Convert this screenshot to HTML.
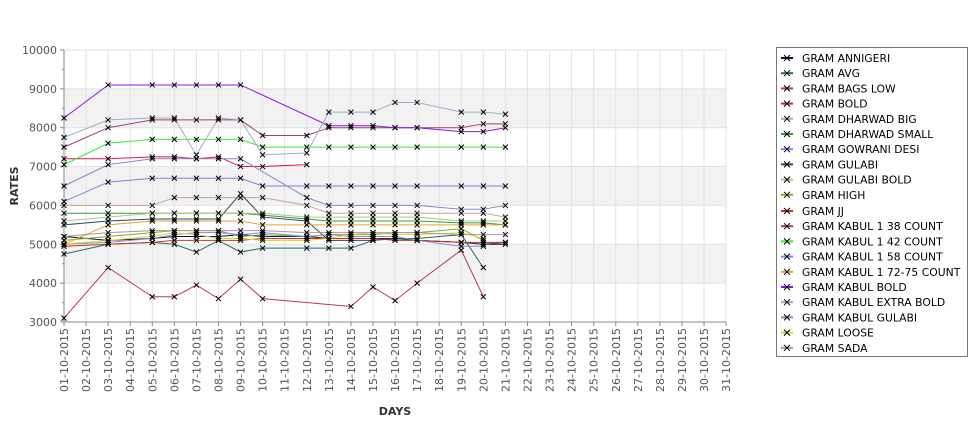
<!DOCTYPE html>
<html><head><meta charset="utf-8"><style>
body{margin:0;background:#fff;font-family:"DejaVu Sans","Liberation Sans",sans-serif;}
svg text{font-family:"DejaVu Sans","Liberation Sans",sans-serif;}
</style></head><body>
<svg id="c" width="975" height="429" xmlns="http://www.w3.org/2000/svg"></svg>
<script>
const s=document.getElementById('c');let h='';
const X=d=>64+(d-1)*22.07, Y=v=>322-(v-3000)*0.03886;
[[9000,8000],[7000,6000],[5000,4000]].forEach(b=>{h+=`<rect x="64" y="${Y(b[0])}" width="662" height="${Y(b[1])-Y(b[0])}" fill="#f2f2f2"/>`;});
for(let d=1;d<=31;d++){h+=`<line x1="${X(d)}" y1="50" x2="${X(d)}" y2="322" stroke="#e2e2e2"/>`;}
for(let v=3000;v<=10000;v+=1000){h+=`<line x1="64" y1="${Y(v)}" x2="726" y2="${Y(v)}" stroke="#e2e2e2"/>`;
h+=`<text x="57" y="${Y(v)+4}" font-size="11" fill="#555" text-anchor="end">${v}</text>`;
h+=`<line x1="60" y1="${Y(v)}" x2="64" y2="${Y(v)}" stroke="#888"/>`;
if(v<10000)h+=`<line x1="62" y1="${Y(v+500)}" x2="64" y2="${Y(v+500)}" stroke="#888"/>`;}
h+=`<line x1="64" y1="50" x2="64" y2="322" stroke="#888"/><line x1="64" y1="322" x2="726" y2="322" stroke="#888"/>`;
for(let d=1;d<=31;d++){const l=String(d).padStart(2,'0')+'-10-2015';
h+=`<line x1="${X(d)}" y1="322" x2="${X(d)}" y2="326" stroke="#888"/>`;
h+=`<text transform="translate(${X(d)+4},328) rotate(-90)" font-size="11" fill="#555" text-anchor="end">${l}</text>`;}
h+=`<text x="395" y="415" font-size="11" font-weight="bold" fill="#333" text-anchor="middle">DAYS</text>`;
h+=`<text transform="translate(18,186) rotate(-90)" font-size="11" font-weight="bold" fill="#333" text-anchor="middle">RATES</text>`;
const S=[
["GRAM ANNIGERI","#101050",{1:5200,3:5100,5:5150,6:5200,7:5200,8:5200,9:5250,10:5200,12:5200,13:5150,14:5150,15:5150,16:5150,17:5100,19:5050,20:5000,21:5000}],
["GRAM AVG","#207060",{1:4750,3:5000,5:5050,6:5000,7:4800,8:5100,9:4800,10:4900,12:4900,13:4900,14:4900,15:5100,16:5150,17:5150,19:5250,20:4400}],
["GRAM BAGS LOW","#c03070",{1:3100,3:4400,5:3650,6:3650,7:3950,8:3600,9:4100,10:3600,14:3400,15:3900,16:3550,17:4000,19:4850,20:3650}],
["GRAM BOLD","#e0105a",{1:7200,3:7200,5:7250,6:7250,7:7200,8:7250,9:7000,10:7000,12:7050}],
["GRAM DHARWAD BIG","#c8a0a0",{1:6000,3:6000,5:6000,6:6200,7:6200,8:6200,9:6200,10:6200,12:6000,13:5800,14:5800,15:5800,16:5800,17:5800,19:5800,20:5800,21:5700}],
["GRAM DHARWAD SMALL","#33a033",{1:5800,3:5800,5:5800,6:5800,7:5800,8:5800,9:5800,10:5750,12:5650,13:5600,14:5600,15:5600,16:5600,17:5600,19:5550,20:5550,21:5500}],
["GRAM GOWRANI DESI","#8080dd",{1:6100,3:6600,5:6700,6:6700,7:6700,8:6700,9:6700,10:6500,12:6500,13:6500,14:6500,15:6500,16:6500,17:6500,19:6500,20:6500,21:6500}],
["GRAM GULABI","#334466",{1:5500,3:5600,5:5650,6:5650,7:5650,8:5650,9:6300,10:5700,12:5600,13:5100,14:5100,15:5100,16:5150,17:5100,19:5050,20:5000,21:5050}],
["GRAM GULABI BOLD","#a8c888",{1:5600,3:5700,5:5800,6:5800,7:5800,8:5800,9:5800,10:5800,12:5700,13:5700,14:5700,15:5700,16:5700,17:5700,19:5600,20:5600,21:5600}],
["GRAM HIGH","#80b020",{1:5100,3:5200,5:5300,6:5350,7:5350,8:5350,9:5200,10:5250,12:5200,13:5250,14:5250,15:5250,16:5300,17:5300,19:5400,20:5100}],
["GRAM JJ","#d03020",{1:4950,3:5000,5:5050,6:5100,7:5100,8:5100,9:5100,10:5150,12:5150,13:5150,14:5150,15:5150,16:5100,17:5100,19:5050,20:5050,21:5050}],
["GRAM KABUL 1 38 COUNT","#a0406a",{1:7500,3:8000,5:8200,6:8200,7:8200,8:8200,9:8200,10:7800,12:7800,13:8000,14:8000,15:8000,16:8000,17:8000,19:8000,20:8100,21:8100}],
["GRAM KABUL 1 42 COUNT","#33ee33",{1:7050,3:7600,5:7700,6:7700,7:7700,8:7700,9:7700,10:7500,12:7500,13:7500,14:7500,15:7500,16:7500,17:7500,19:7500,20:7500,21:7500}],
["GRAM KABUL 1 58 COUNT","#8888dd",{1:5000,3:5050,5:5150,6:5250,7:5300,8:5300,9:5250,10:5300,12:5200,13:5250,14:5200,15:5200,16:5200,17:5100,19:4950,20:4950}],
["GRAM KABUL 1 72-75 COUNT","#e8a030",{1:5000,3:5500,5:5600,6:5600,7:5600,8:5600,9:5600,10:5500,12:5500,13:5500,14:5500,15:5500,16:5500,17:5500,19:5500,20:5500,21:5500}],
["GRAM KABUL BOLD","#9010f0",{1:8250,3:9100,5:9100,6:9100,7:9100,8:9100,9:9100,13:8050,14:8050,15:8050,16:8000,17:8000,19:7900,20:7900,21:8000}],
["GRAM KABUL EXTRA BOLD","#9aaccc",{1:7750,3:8200,5:8250,6:8250,7:7300,8:8250,9:8200,10:7300,12:7350,13:8400,14:8400,15:8400,16:8650,17:8650,19:8400,20:8400,21:8350}],
["GRAM KABUL GULABI","#8888bb",{1:6500,3:7050,5:7200,6:7200,7:7200,8:7200,9:7200,12:6200,13:6000,14:6000,15:6000,16:6000,17:6000,19:5900,20:5900,21:6000}],
["GRAM LOOSE","#d8d820",{1:5000,3:5100,5:5200,6:5300,7:5250,8:5150,9:5150,10:5100,12:5100,13:5150,14:5250,15:5300,16:5250,17:5250,19:5300,20:5150}],
["GRAM SADA","#b090a8",{1:5200,3:5300,5:5350,6:5350,7:5350,8:5350,9:5350,10:5350,12:5300,13:5300,14:5300,15:5300,16:5300,17:5300,19:5250,20:5250,21:5250}]
];
const xm=(x,y,r)=>`<path d="M${x-r} ${y-r}L${x+r} ${y+r}M${x-r} ${y+r}L${x+r} ${y-r}" stroke="#000" stroke-width="1"/>`;
let marks='';
S.forEach(([n,c,d])=>{const pts=Object.keys(d).map(k=>[X(+k),Y(d[k])]);
h+=`<polyline fill="none" stroke="${c}" stroke-width="1" points="${pts.map(p=>p.join(',')).join(' ')}"/>`;
pts.forEach(p=>marks+=xm(p[0],p[1],2.5));});
h+=marks;
h+=`<rect x="776.5" y="47.5" width="191" height="309" fill="#fff" stroke="#777"/>`;
S.forEach(([n,c],i)=>{const y=58+i*15.2+(i>=10?1:0);
h+=`<line x1="781" y1="${y}" x2="793" y2="${y}" stroke="${c}" stroke-width="2"/>`+xm(787,y,3);
h+=`<text x="802" y="${y+4}" font-size="10.8" fill="#000">${n}</text>`;});
s.innerHTML=h;
</script>
</body></html>
